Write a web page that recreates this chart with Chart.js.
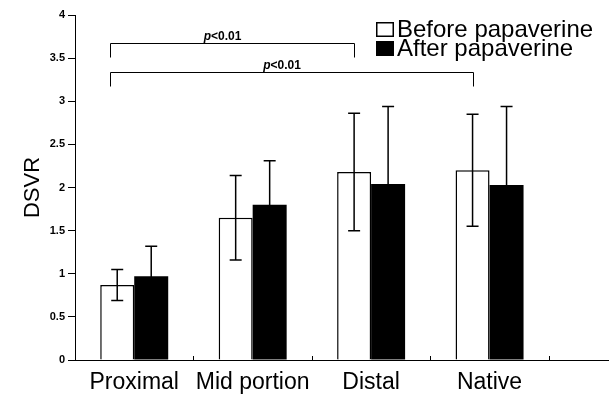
<!DOCTYPE html>
<html>
<head>
<meta charset="utf-8">
<script src="https://cdn.jsdelivr.net/npm/chart.js@4.4.0/dist/chart.umd.min.js"></script>
<style>
  html, body { margin: 0; padding: 0; background: #fff; }
</style>
</head>
<body>
<canvas id="dsvr_chart" width="616" height="395"></canvas>
<script>
const categories = ["Proximal", "Mid portion", "Distal", "Native"];
const seriesNames = ["Before papaverine", "After papaverine"];
const beforeValues = [0.87, 1.65, 2.18, 2.2];
const beforeSD = [0.18, 0.49, 0.68, 0.65];
const afterValues = [0.97, 1.8, 2.04, 2.03];
const afterSD = [0.35, 0.51, 0.9, 0.91];
const yTickValues = [0, 0.5, 1, 1.5, 2, 2.5, 3, 3.5, 4];
// significance brackets: from / to category index, height on the DSVR scale
const bracketFrom = [0, 0];
const bracketTo = [2, 3];
const bracketY = [3.68, 3.34];
const bracketLabel = ["p<0.01", "p<0.01"];

const FONT = "'Liberation Sans', Arial, Helvetica, sans-serif";
Chart.defaults.font.family = FONT;
Chart.defaults.color = "#000";

// error bars (mean +/- SD) on top of each bar
const errorBars = {
  id: "errorBars",
  afterDatasetsDraw(chart) {
    const ctx = chart.ctx;
    const y = chart.scales.y;
    const sets = [[beforeValues, beforeSD], [afterValues, afterSD]];
    ctx.save();
    ctx.strokeStyle = "#000";
    ctx.lineWidth = 1.5;
    sets.forEach((s, d) => {
      chart.getDatasetMeta(d).data.forEach((bar, i) => {
        const top = y.getPixelForValue(s[0][i] + s[1][i]);
        const bot = y.getPixelForValue(s[0][i] - s[1][i]);
        ctx.beginPath();
        ctx.moveTo(bar.x, top);
        ctx.lineTo(bar.x, bot);
        ctx.moveTo(bar.x - 6, top);
        ctx.lineTo(bar.x + 6, top);
        ctx.moveTo(bar.x - 6, bot);
        ctx.lineTo(bar.x + 6, bot);
        ctx.stroke();
      });
    });
    ctx.restore();
  },
};

// small inward ticks between categories, brackets and legend
const extras = {
  id: "extras",
  afterDraw(chart) {
    const ctx = chart.ctx;
    const x = chart.scales.x;
    const y = chart.scales.y;
    const area = chart.chartArea;
    ctx.save();
    ctx.strokeStyle = "#000";
    ctx.lineWidth = 1;
    categories.forEach((c, i) => {
      const px = Math.round(x.getPixelForValue(i + 0.5)) + 0.5;
      ctx.beginPath();
      ctx.moveTo(px, area.bottom);
      ctx.lineTo(px, area.bottom - 4);
      ctx.stroke();
    });

    const white = chart.getDatasetMeta(0).data;
    bracketY.forEach((v, k) => {
      const x1 = Math.round(white[bracketFrom[k]].x) - 6.5;
      const x2 = Math.round(white[bracketTo[k]].x) + 0.5;
      const py = Math.round(y.getPixelForValue(v)) + 0.5;
      ctx.beginPath();
      ctx.moveTo(x1, py + 14);
      ctx.lineTo(x1, py);
      ctx.lineTo(x2, py);
      ctx.lineTo(x2, py + 14);
      ctx.stroke();

      const p = bracketLabel[k].slice(0, 1);
      const rest = bracketLabel[k].slice(1);
      ctx.font = "italic bold 12px " + FONT;
      const wp = ctx.measureText(p).width;
      ctx.font = "bold 12px " + FONT;
      const wr = ctx.measureText(rest).width;
      const cx = (x1 + x2) / 2 - 10;
      const tx = cx - (wp + wr) / 2;
      ctx.fillStyle = "#000";
      ctx.textBaseline = "alphabetic";
      ctx.font = "italic bold 12px " + FONT;
      ctx.fillText(p, tx, py - 4);
      ctx.font = "bold 12px " + FONT;
      ctx.fillText(rest, tx + wp, py - 4);
    });

    // legend
    const lx = 376;
    const ly = [22, 41];
    ctx.font = "24px " + FONT;
    ctx.textBaseline = "alphabetic";
    seriesNames.forEach((name, k) => {
      if (k === 0) {
        ctx.fillStyle = "#fff";
        ctx.fillRect(lx, ly[k], 18, 15);
        ctx.lineWidth = 1.5;
        ctx.strokeRect(lx + 0.75, ly[k] + 0.75, 16.5, 13.5);
      } else {
        ctx.fillStyle = "#000";
        ctx.fillRect(lx, ly[k], 18, 15);
      }
      ctx.fillStyle = "#000";
      ctx.fillText(name, lx + 21, ly[k] + 15);
    });
    ctx.restore();
  },
};

const ctx = document.getElementById("dsvr_chart").getContext("2d");
const dsvrChart = new Chart(ctx, {
  type: "bar",
  data: {
    datasets: [
      {
        label: seriesNames[0],
        data: beforeValues.map((v, i) => ({ x: i, y: v })),
        backgroundColor: "#fff",
        borderColor: "#000",
        borderWidth: 1.5,
      },
      {
        label: seriesNames[1],
        data: afterValues.map((v, i) => ({ x: i, y: v })),
        backgroundColor: "#000",
        borderColor: "#000",
        borderWidth: 0,
      },
    ],
  },
  options: {
    responsive: false,
    animation: false,
    categoryPercentage: 0.574,
    barPercentage: 1,
    layout: {
      padding: { top: 15, right: 8, left: 0, bottom: 0 },
    },
    plugins: {
      legend: { display: false },
      tooltip: { enabled: false },
    },
    scales: {
      x: {
        type: "linear",
        offset: false,
        min: -0.5,
        max: 4,
        afterBuildTicks: (scale) => {
          scale.ticks = categories.map((c, i) => ({ value: i }));
        },
        afterFit: (scale) => {
          scale.height = 35;
        },
        grid: { display: false, offset: false },
        border: { display: true, color: "#000", width: 1 },
        ticks: {
          autoSkip: false,
          maxRotation: 0,
          padding: 1,
          font: { size: 23 },
          color: "#000",
          callback: (v) => categories[v],
        },
      },
      y: {
        min: 0,
        max: 4,
        afterBuildTicks: (scale) => {
          scale.ticks = yTickValues.map((v) => ({ value: v }));
        },
        afterFit: (scale) => {
          scale.width = 75;
        },
        grid: {
          display: true,
          drawOnChartArea: false,
          drawTicks: true,
          tickLength: 7,
          color: "#000",
        },
        border: { display: true, color: "#000", width: 1 },
        ticks: {
          padding: 3,
          font: { size: 11, weight: "bold" },
          color: "#000",
          callback: (v) => String(v),
        },
        title: {
          display: true,
          text: "DSVR",
          font: { size: 22 },
          color: "#000",
          padding: { top: 20, bottom: 0 },
        },
      },
    },
  },
  plugins: [errorBars, extras],
});
</script>
</body>
</html>
